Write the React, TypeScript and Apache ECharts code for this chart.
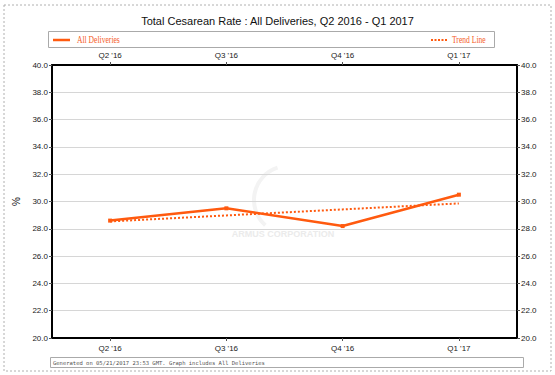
import React, { useEffect, useRef } from "react";
import * as echarts from "echarts";

const categories = ["Q2 '16", "Q3 '16", "Q4 '16", "Q1 '17"];
const allDeliveries = [28.6, 29.5, 28.2, 30.5];
const trendLine = [28.54, 28.98, 29.42, 29.86];
const titleText = "Total Cesarean Rate : All Deliveries, Q2 2016 - Q1 2017";
const footerText = "Generated on 05/21/2017 23:53 GMT. Graph includes All Deliveries";

const ORANGE = "#ff5a0f";
const SANS = "'Liberation Sans', Arial, Helvetica, sans-serif";
const SERIF = "'Liberation Serif', 'Times New Roman', serif";

export default function App() {
  const ref = useRef<HTMLDivElement>(null);
  useEffect(() => {
    const chart = echarts.init(ref.current!, null, { renderer: "svg" });
    const yAxisBase = {
      type: "value",
      min: 20,
      max: 40,
      interval: 2,
      axisLine: { show: true, lineStyle: { color: "#000", width: 2 } },
      axisTick: { show: true, length: 3, lineStyle: { color: "#555" } },
      axisLabel: {
        fontSize: 8,
        fontFamily: SANS,
        color: "#222",
        margin: 4,
        formatter: (v: number) => v.toFixed(1),
      },
    };
    const xAxisBase = {
      type: "category",
      data: categories,
      boundaryGap: true,
      axisLine: { show: true, lineStyle: { color: "#000", width: 2 } },
      axisTick: { show: true, alignWithLabel: true, length: 3, lineStyle: { color: "#555" } },
      axisLabel: { fontSize: 8, fontFamily: SANS, color: "#222", margin: 6 },
      splitLine: { show: false },
    };
    chart.setOption({
      animation: false,
      backgroundColor: "#fff",
      title: {
        text: titleText,
        left: "center",
        top: 10,
        textStyle: { fontSize: 11, fontWeight: "normal", fontFamily: SANS, color: "#111" },
      },
      grid: { left: 52, right: 38, top: 65, bottom: 37 },
      xAxis: [
        { ...xAxisBase, position: "bottom" },
        { ...xAxisBase, position: "top" },
      ],
      yAxis: [
        {
          ...yAxisBase,
          position: "left",
          name: "%",
          nameLocation: "middle",
          nameRotate: 90,
          nameGap: 28,
          nameTextStyle: { fontSize: 10, fontFamily: SANS, color: "#111" },
          splitLine: { show: true, lineStyle: { color: "#d6d6d6", width: 1 } },
        },
        { ...yAxisBase, position: "right", splitLine: { show: false } },
      ],
      graphic: [
        {
          type: "rect",
          shape: { x: 4, y: 5, width: 547, height: 366 },
          style: { fill: "none", stroke: "#b0b0b0", lineWidth: 1, lineDash: [2, 2] },
          silent: true,
        },
        {
          type: "rect",
          shape: { x: 48.5, y: 31.5, width: 446, height: 16 },
          style: { fill: "#fff", stroke: "#aaa", lineWidth: 1 },
          silent: true,
        },
        {
          type: "line",
          shape: { x1: 53, y1: 40, x2: 70, y2: 40 },
          style: { stroke: ORANGE, lineWidth: 2.5 },
        },
        {
          type: "text",
          x: 77,
          y: 40,
          scaleX: 0.76,
          style: { text: "All Deliveries", fill: "#f5602a", font: `10px ${SERIF}`, textVerticalAlign: "middle" },
        },
        {
          type: "line",
          shape: { x1: 431, y1: 40, x2: 447, y2: 40 },
          style: { stroke: ORANGE, lineWidth: 2, lineDash: [2, 1.5] },
        },
        {
          type: "text",
          x: 452,
          y: 40,
          scaleX: 0.76,
          style: { text: "Trend Line", fill: "#f5602a", font: `10px ${SERIF}`, textVerticalAlign: "middle" },
        },
        {
          type: "rect",
          shape: { x: 50.5, y: 357.5, width: 473, height: 10 },
          style: { fill: "#fff", stroke: "#aaa", lineWidth: 1 },
          silent: true,
        },
        {
          type: "text",
          x: 53,
          y: 362.5,
          style: { text: footerText, fill: "#555", font: `5.5px 'DejaVu Sans Mono', 'Liberation Mono', monospace`, textVerticalAlign: "middle" },
        },
        {
          type: "arc",
          shape: { cx: 288, cy: 200, r: 34, startAngle: 2.3, endAngle: 4.4 },
          style: { stroke: "#f3f3f3", lineWidth: 4, fill: "none" },
          z: -1,
          silent: true,
        },
        {
          type: "text",
          x: 283,
          y: 234,
          z: -1,
          style: { text: "ARMUS CORPORATION", fill: "#ebebeb", font: `bold 9px ${SANS}`, textAlign: "center", textVerticalAlign: "middle" },
          silent: true,
        },
      ],
      series: [
        {
          name: "Trend Line",
          type: "line",
          data: trendLine,
          symbol: "none",
          lineStyle: { color: ORANGE, width: 2, type: [2, 2] },
          z: 3,
        },
        {
          name: "All Deliveries",
          type: "line",
          data: allDeliveries,
          symbol: "rect",
          symbolSize: 4,
          itemStyle: { color: ORANGE },
          lineStyle: { color: ORANGE, width: 2.5 },
          z: 4,
        },
      ],
    });
    return () => chart.dispose();
  }, []);
  return <div ref={ref} style={{ position: "fixed", left: 0, top: 0, width: 555, height: 375 }} />;
}
